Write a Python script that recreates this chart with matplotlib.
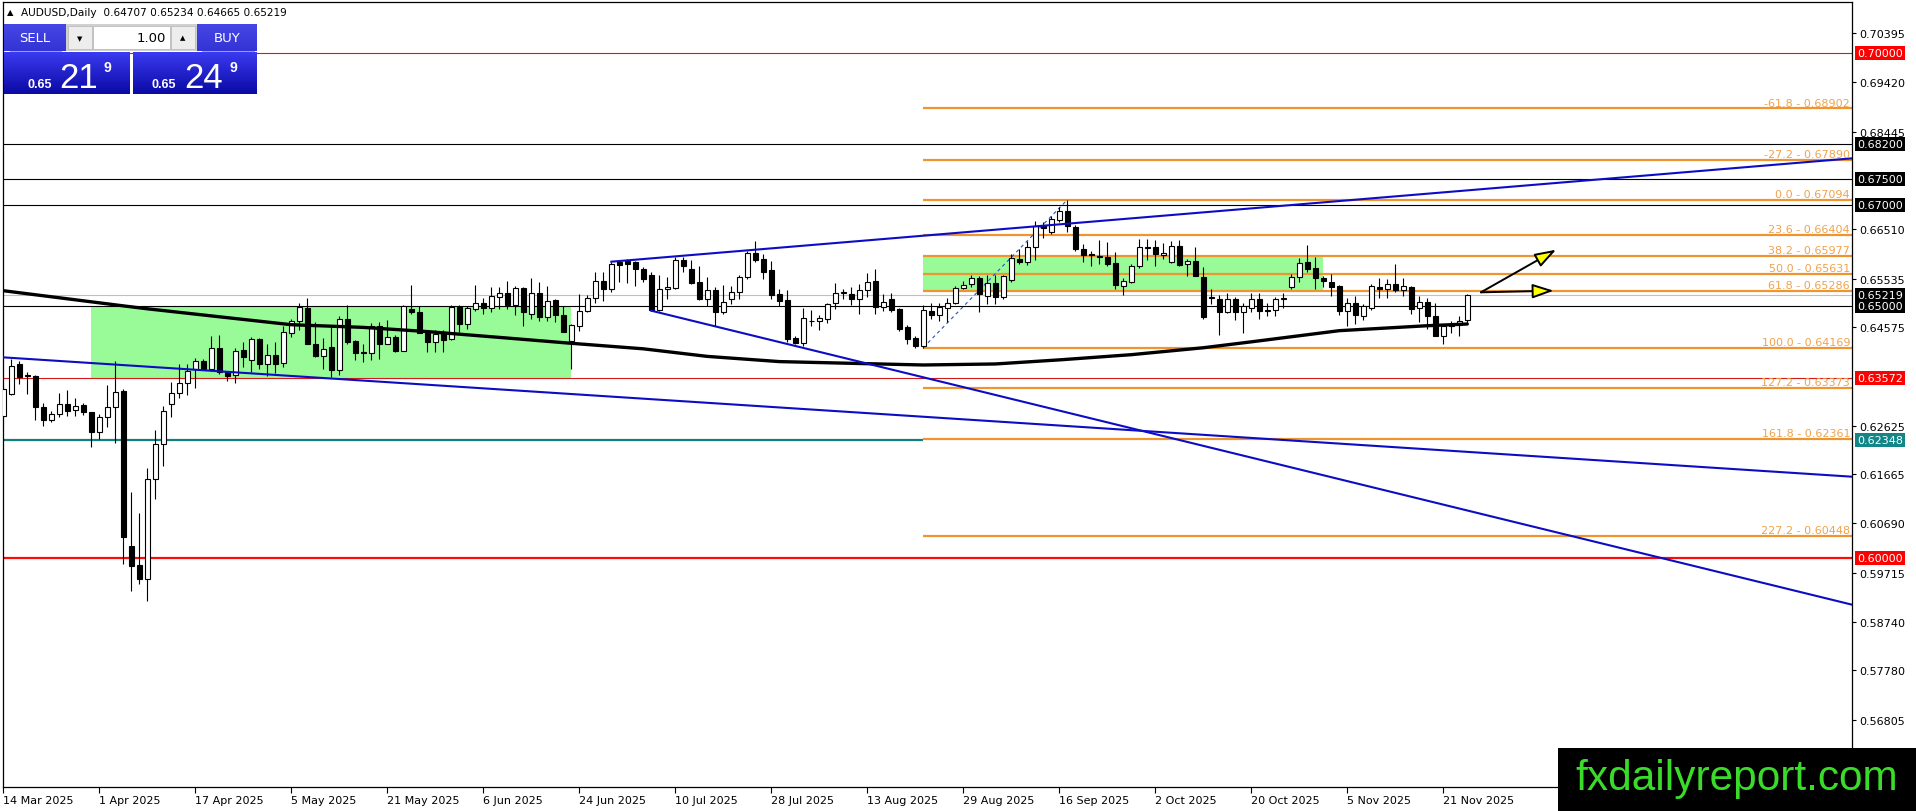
import numpy as np
import matplotlib
matplotlib.use('Agg')
import matplotlib.pyplot as plt
from matplotlib.patches import Rectangle

# ---------------- DATA ----------------
symbol_header = "AUDUSD,Daily  0.64707 0.65234 0.64665 0.65219"

ohlc = [
 (0.6282,0.6338,0.6277,0.6335),(0.6325,0.6394,0.6324,0.6381),(0.6384,0.6391,0.6345,0.6358),(0.6362,0.6368,0.6325,0.6360),
 (0.6360,0.6363,0.6274,0.6300),(0.6300,0.6308,0.6261,0.6274),(0.6274,0.6292,0.6269,0.6285),(0.6285,0.6328,0.6280,0.6305),
 (0.6305,0.6332,0.6281,0.6292),(0.6294,0.6318,0.6282,0.6302),(0.6303,0.6308,0.6283,0.6289),(0.6289,0.6290,0.6221,0.6249),
 (0.6249,0.6285,0.6237,0.6279),(0.6279,0.6343,0.6260,0.6300),(0.6300,0.6391,0.6229,0.6330),(0.6331,0.6335,0.5989,0.6042),
 (0.6024,0.6132,0.5936,0.5985),(0.5987,0.6090,0.5949,0.5958),(0.5958,0.6178,0.5916,0.6156),(0.6156,0.6253,0.6117,0.6226),
 (0.6226,0.6302,0.6183,0.6291),(0.6305,0.6348,0.6279,0.6328),(0.6328,0.6384,0.6318,0.6346),(0.6346,0.6384,0.6324,0.6371),
 (0.6374,0.6396,0.6336,0.6390),(0.6390,0.6394,0.6374,0.6374),(0.6374,0.6439,0.6371,0.6417),(0.6417,0.6442,0.6365,0.6368),
 (0.6368,0.6371,0.6351,0.6361),(0.6362,0.6416,0.6347,0.6411),(0.6412,0.6427,0.6378,0.6399),(0.6393,0.6437,0.6369,0.6434),
 (0.6434,0.6435,0.6374,0.6384),(0.6384,0.6424,0.6361,0.6403),(0.6403,0.6427,0.6367,0.6384),(0.6386,0.6460,0.6378,0.6447),
 (0.6445,0.6473,0.6437,0.6469),(0.6470,0.6505,0.6452,0.6497),(0.6495,0.6516,0.6424,0.6424),(0.6425,0.6467,0.6398,0.6401),
 (0.6401,0.6435,0.6374,0.6414),(0.6419,0.6457,0.6358,0.6373),(0.6373,0.6480,0.6363,0.6473),(0.6473,0.6501,0.6424,0.6427),
 (0.6430,0.6431,0.6393,0.6407),(0.6407,0.6424,0.6389,0.6408),(0.6406,0.6466,0.6393,0.6459),(0.6459,0.6467,0.6394,0.6424),
 (0.6425,0.6472,0.6424,0.6438),(0.6438,0.6442,0.6409,0.6411),(0.6411,0.6501,0.6410,0.6499),(0.6493,0.6541,0.6483,0.6487),
 (0.6487,0.6499,0.6445,0.6446),(0.6445,0.6452,0.6409,0.6427),(0.6427,0.6452,0.6409,0.6444),(0.6444,0.6452,0.6409,0.6432),
 (0.6433,0.6501,0.6432,0.6497),(0.6497,0.6501,0.6448,0.6464),(0.6464,0.6500,0.6454,0.6495),(0.6493,0.6541,0.6490,0.6506),
 (0.6506,0.6516,0.6483,0.6495),(0.6495,0.6536,0.6487,0.6520),(0.6518,0.6536,0.6493,0.6524),(0.6524,0.6548,0.6493,0.6501),
 (0.6501,0.6538,0.6481,0.6535),(0.6535,0.6536,0.6460,0.6488),(0.6483,0.6554,0.6473,0.6524),(0.6524,0.6546,0.6470,0.6477),
 (0.6477,0.6539,0.6470,0.6510),(0.6511,0.6514,0.6468,0.6481),(0.6481,0.6500,0.6448,0.6448),(0.6430,0.6463,0.6374,0.6461),
 (0.6460,0.6523,0.6450,0.6490),(0.6490,0.6521,0.6487,0.6515),(0.6515,0.6566,0.6506,0.6548),(0.6548,0.6567,0.6510,0.6532),
 (0.6532,0.6587,0.6526,0.6582),(0.6587,0.6589,0.6546,0.6581),(0.6588,0.6592,0.6545,0.6583),(0.6587,0.6589,0.6539,0.6572),
 (0.6572,0.6576,0.6547,0.6553),(0.6560,0.6566,0.6490,0.6492),(0.6492,0.6560,0.6490,0.6533),(0.6533,0.6556,0.6513,0.6537),
 (0.6535,0.6596,0.6533,0.6591),(0.6591,0.6597,0.6566,0.6579),(0.6572,0.6591,0.6543,0.6545),(0.6546,0.6578,0.6512,0.6513),
 (0.6514,0.6556,0.6499,0.6530),(0.6531,0.6536,0.6460,0.6488),(0.6488,0.6541,0.6483,0.6508),(0.6513,0.6539,0.6503,0.6526),
 (0.6526,0.6561,0.6513,0.6556),(0.6556,0.6609,0.6553,0.6604),(0.6604,0.6627,0.6587,0.6590),(0.6592,0.6602,0.6553,0.6567),
 (0.6570,0.6589,0.6513,0.6521),(0.6522,0.6533,0.6500,0.6510),(0.6511,0.6530,0.6427,0.6434),(0.6435,0.6440,0.6424,0.6426),
 (0.6426,0.6495,0.6421,0.6475),(0.6470,0.6492,0.6460,0.6469),(0.6469,0.6481,0.6452,0.6475),(0.6473,0.6506,0.6466,0.6503),
 (0.6505,0.6544,0.6493,0.6525),(0.6525,0.6532,0.6514,0.6526),(0.6522,0.6536,0.6501,0.6513),(0.6514,0.6543,0.6483,0.6531),
 (0.6530,0.6564,0.6518,0.6546),(0.6548,0.6572,0.6483,0.6497),(0.6497,0.6523,0.6490,0.6508),(0.6513,0.6525,0.6487,0.6492),
 (0.6493,0.6495,0.6450,0.6454),(0.6457,0.6462,0.6424,0.6434),(0.6435,0.6440,0.6417,0.6421),(0.6421,0.6501,0.64169,0.6492),
 (0.6490,0.6506,0.6473,0.6481),(0.6481,0.6505,0.6470,0.6497),(0.6495,0.6516,0.6467,0.6505),(0.6506,0.6539,0.6503,0.6534),
 (0.6534,0.6549,0.6533,0.6541),(0.6543,0.6561,0.6536,0.6554),(0.6554,0.6558,0.6487,0.6523),(0.6520,0.6561,0.6503,0.6544),
 (0.6544,0.6561,0.6503,0.6518),(0.6518,0.6561,0.6513,0.6558),(0.6551,0.6602,0.6547,0.6594),(0.6592,0.6612,0.6582,0.6586),
 (0.6586,0.6627,0.6580,0.6615),(0.6615,0.6668,0.6591,0.6658),(0.6658,0.6665,0.6633,0.6653),(0.6646,0.6678,0.6642,0.6671),
 (0.6670,0.6695,0.6666,0.6687),(0.6687,0.67094,0.6645,0.6657),(0.6656,0.6660,0.6609,0.6612),(0.6613,0.6622,0.6587,0.6600),
 (0.6602,0.6609,0.6578,0.6600),(0.6596,0.6629,0.6582,0.6599),(0.6596,0.6625,0.6579,0.6582),(0.6584,0.6607,0.6533,0.6541),
 (0.6539,0.6554,0.6521,0.6548),(0.6546,0.6582,0.6545,0.6578),(0.6578,0.6632,0.6574,0.6615),(0.6615,0.6632,0.6591,0.6614),
 (0.6615,0.6629,0.6579,0.6602),(0.6601,0.6624,0.6592,0.6604),(0.6586,0.6627,0.6584,0.6617),(0.6617,0.6629,0.6579,0.6580),
 (0.6582,0.6592,0.6558,0.6589),(0.6589,0.6615,0.6558,0.6558),(0.6557,0.6576,0.6473,0.6477),(0.6516,0.6533,0.6503,0.6517),
 (0.6514,0.6521,0.6442,0.6487),(0.6487,0.6525,0.6485,0.6514),(0.6514,0.6518,0.6472,0.6487),(0.6487,0.6505,0.6445,0.6500),
 (0.6495,0.6525,0.6488,0.6514),(0.6514,0.6525,0.6473,0.6489),(0.6491,0.6506,0.6479,0.6489),(0.6491,0.6518,0.6480,0.6514),
 (0.6513,0.6525,0.6495,0.6516),(0.6536,0.6563,0.6532,0.6556),(0.6556,0.6594,0.6546,0.6584),(0.6587,0.6620,0.6566,0.6572),
 (0.6574,0.6596,0.6533,0.6554),(0.6555,0.6559,0.6536,0.6548),(0.6546,0.6563,0.6520,0.6537),(0.6539,0.6541,0.6481,0.6490),
 (0.6490,0.6516,0.6460,0.6506),(0.6506,0.6520,0.6464,0.6481),(0.6480,0.6503,0.6471,0.6499),(0.6495,0.6543,0.6492,0.6538),
 (0.6536,0.6554,0.6516,0.6533),(0.6533,0.6553,0.6516,0.6543),(0.6543,0.6582,0.6526,0.6531),(0.6531,0.6554,0.6520,0.6539),
 (0.6537,0.6539,0.6483,0.6494),(0.6495,0.6520,0.6468,0.6508),(0.6508,0.6516,0.6454,0.6480),(0.6479,0.6505,0.6440,0.6440),
 (0.6440,0.6464,0.6424,0.6460),(0.6459,0.6470,0.6446,0.6464),(0.6462,0.6480,0.6439,0.6470),(0.64707,0.65234,0.64665,0.65219),
]
opens = [r[0] for r in ohlc]
highs = [r[1] for r in ohlc]
lows = [r[2] for r in ohlc]
closes = [r[3] for r in ohlc]

# moving average (read at bar indices)
ma_idx = [0, 15, 18, 27, 36, 45, 53, 62, 71, 80, 88, 97, 106, 115, 124, 132, 141, 150, 156, 167, 178, 183]
ma_val = [0.65295, 0.64995, 0.64937, 0.64779, 0.64622, 0.64569, 0.64486, 0.64371, 0.64254, 0.64145,
          0.63995, 0.63892, 0.63858, 0.63825, 0.63845, 0.63926, 0.64029, 0.64166, 0.64283, 0.64504,
          0.64602, 0.64636]

date_idx = [0, 12, 24, 36, 48, 60, 72, 84, 96, 108, 120, 132, 144, 156, 168, 180]
date_lbl = ["14 Mar 2025", "1 Apr 2025", "17 Apr 2025", "5 May 2025", "21 May 2025", "6 Jun 2025",
            "24 Jun 2025", "10 Jul 2025", "28 Jul 2025", "13 Aug 2025", "29 Aug 2025", "16 Sep 2025",
            "2 Oct 2025", "20 Oct 2025", "5 Nov 2025", "21 Nov 2025"]

ytick_vals = [0.70395, 0.69420, 0.68445, 0.66510, 0.65535, 0.64575, 0.62625, 0.61665,
              0.60690, 0.59715, 0.58740, 0.57780, 0.56805]
ytick_lbl = ["%.5f" % v for v in ytick_vals]

# horizontal levels
black_levels = [0.68200, 0.67500, 0.67000, 0.65000]
red_levels = [0.70000, 0.63572]
red_strong = 0.60000
teal_level = 0.62348
teal_end = 115
bid = 0.65219

# price label boxes on the axis
axis_boxes = [(0.70000, 'red'), (0.68200, 'black'), (0.67500, 'black'), (0.67000, 'black'),
              (0.65219, 'black'), (0.65000, 'black'), (0.63572, 'red'), (0.62348, 'teal'),
              (0.60000, 'red')]

# fibonacci
fib_start = 115
fib_pct = ["-61.8", "-27.2", "0.0", "23.6", "38.2", "50.0", "61.8", "100.0", "127.2", "161.8", "227.2"]
fib_val = [0.68902, 0.67890, 0.67094, 0.66404, 0.65977, 0.65631, 0.65286, 0.64169, 0.63373, 0.62361, 0.60448]
fib_anchor = [(115, 0.64169), (133, 0.67094)]

# zones (bar start, bar end, low, high)
zones = [(11, 71, 0.63572, 0.65000), (115, 165, 0.65286, 0.65977)]

# trend lines (bar, price) anchors
trend_upper = [(76, 0.65869), (231.1, 0.67915)]
trend_fall = [(81, 0.64899), (231.1, 0.59081)]
trend_lower = [(-0.1, 0.63977), (231.1, 0.61614)]

# arrows (start, end)
arrows = [((184.7, 0.65263), (194.1, 0.66106)), ((184.7, 0.65263), (193.8, 0.65295))]

# ---------------- FIGURE ----------------
W, H = 1916, 812
fig = plt.figure(figsize=(W / 100, H / 100), dpi=100)
fig.patch.set_facecolor('white')
plt.rcParams['font.family'] = ['DejaVu Sans']

PL, PR, PT, PB = 2.5, 1852.0, 2.5, 788.0
ax = fig.add_axes([PL / W, 1 - PB / H, (PR - PL) / W, (PB - PT) / H])
ax.set_facecolor('white')


def kx(x):
    return (x - 3.3) / 8.0


Y0, PPU = 34.0, 5053.0
xmin, xmax = kx(PL), kx(PR)
ax.set_xlim(xmin, xmax)
ax.set_ylim(0.70395 - (PB - Y0) / PPU, 0.70395 + (Y0 - PT) / PPU)

ORANGE = '#EE9530'
ORANGE_T = '#F0A24C'
BLUE = '#0C0CC4'

# zones
for (k0, k1, lo, hi) in zones:
    ax.add_patch(Rectangle((k0, lo), k1 - k0, hi - lo, facecolor='#98FB98', edgecolor='none', zorder=1))

# horizontal levels
ax.axhline(bid, color='#C0C0C0', lw=0.8, zorder=2)
for v in black_levels:
    ax.axhline(v, color='black', lw=0.8, zorder=2)
for v in red_levels:
    ax.axhline(v, color='#D41A1A', lw=0.8, zorder=2)
ax.axhline(red_strong, color='#FF0A0A', lw=1.6, zorder=2)
ax.hlines(teal_level, xmin, teal_end, color='#157E7E', lw=1.6, zorder=2)

# fib levels
for p, v in zip(fib_pct, fib_val):
    ax.hlines(v, fib_start, xmax, color=ORANGE, lw=1.6, zorder=2.5)
    ax.text(kx(1850), v + 0.00018, "%s - %.5f" % (p, v), ha='right', va='bottom',
            color=ORANGE_T, fontsize=8, zorder=6)
ax.plot([fib_anchor[0][0], fib_anchor[1][0]], [fib_anchor[0][1], fib_anchor[1][1]],
        color='#2B4FC0', lw=0.8, ls=(0, (3, 3)), zorder=3)

# candles
bw = 0.6
for i, (o, h, l, c) in enumerate(zip(opens, highs, lows, closes)):
    ax.plot([i, i], [l, h], color='black', lw=0.8, zorder=3.5, solid_capstyle='butt')
    up = c >= o
    lo_, hi_ = min(o, c), max(o, c)
    ax.add_patch(Rectangle((i - bw / 2, lo_), bw, hi_ - lo_,
                           facecolor='white' if up else 'black', edgecolor='black',
                           lw=0.8, zorder=4))

# moving average
ax.plot(ma_idx, ma_val, color='black', lw=2.4, zorder=5, solid_capstyle='round',
        solid_joinstyle='round')

# trend lines
for tl in (trend_upper, trend_fall, trend_lower):
    ax.plot([tl[0][0], tl[1][0]], [tl[0][1], tl[1][1]], color=BLUE, lw=1.5, zorder=5)

# arrows
for (s, e) in arrows:
    ax.annotate('', xy=e, xytext=s,
                arrowprops=dict(arrowstyle='-|>,head_length=0.65,head_width=0.22',
                                mutation_scale=20, fc='#FFFF00', ec='black', lw=1.4,
                                shrinkA=0, shrinkB=0), zorder=7)

# axes styling
for sp in ax.spines.values():
    sp.set_color('black')
    sp.set_linewidth(0.9)
ax.yaxis.tick_right()
ax.set_yticks(ytick_vals)
ax.set_yticklabels(ytick_lbl)
ax.tick_params(axis='y', direction='out', length=3, width=0.8, pad=2, labelsize=8, colors='black')
ax.set_xticks(date_idx)
ax.set_xticklabels(date_lbl)
ax.tick_params(axis='x', direction='out', length=4, width=0.8, pad=2, labelsize=8, colors='black')
for t in ax.get_xticklabels():
    t.set_ha('left')

box_col = {'red': '#FF0000', 'black': '#000000', 'teal': '#138787'}
for v, cname in axis_boxes:
    ax.annotate("%.5f" % v, xy=(1, v), xycoords=('axes fraction', 'data'), xytext=(5, 0),
                textcoords='offset pixels', ha='left', va='center', color='white', fontsize=8,
                bbox=dict(boxstyle='square,pad=0.18', fc=box_col[cname], ec='none'),
                annotation_clip=False, zorder=8)

# ---------------- OVERLAYS (pixel coords) ----------------
def prect(x0, y0, x1, y1, z=20, **kw):
    r = Rectangle((x0 / W, 1 - y1 / H), (x1 - x0) / W, (y1 - y0) / H,
                  transform=fig.transFigure, zorder=z, **kw)
    fig.patches.append(r)


def ptext(x, y, s, z=30, **kw):
    fig.text(x / W, 1 - y / H, s, zorder=z, **kw)


def gradbox(x0, y0, x1, y1, ctop, cbot, z=21):
    a = fig.add_axes([x0 / W, 1 - y1 / H, (x1 - x0) / W, (y1 - y0) / H], zorder=z)
    t = np.linspace(0, 1, 64)[:, None]
    ct = np.array(matplotlib.colors.to_rgb(ctop))
    cb = np.array(matplotlib.colors.to_rgb(cbot))
    img = (ct[None, None, :] * (1 - t[:, :, None]) + cb[None, None, :] * t[:, :, None])
    a.imshow(img, aspect='auto', extent=(0, 1, 0, 1))
    a.set_axis_off()


# header
ptext(7, 13, "\u25B2", fontsize=6, va='center', ha='left', color='black')
ptext(21, 13, symbol_header, fontsize=7.6, va='center', ha='left', color='black')

# trade panel top row
gradbox(4, 25, 66, 52, '#4646E6', '#3434D6')
gradbox(197, 25, 257, 52, '#4646E6', '#3434D6')
prect(66, 25, 197, 52, fc='#D0D0D0', ec='none')
prect(68, 27, 92, 50, fc='#EDEDED', ec='#BDBDBD', lw=0.6, z=22)
prect(93, 27, 170, 50, fc='white', ec='#BDBDBD', lw=0.6, z=22)
prect(171, 27, 195, 50, fc='#EDEDED', ec='#BDBDBD', lw=0.6, z=22)
ptext(35, 39, "SELL", fontsize=9.5, ha='center', va='center', color='white')
ptext(227, 39, "BUY", fontsize=9.5, ha='center', va='center', color='white')
ptext(166, 38.5, "1.00", fontsize=9.5, ha='right', va='center', color='black')
ptext(80, 39, "\u25BC", fontsize=5, ha='center', va='center', color='black')
ptext(183, 38, "\u25B2", fontsize=5, ha='center', va='center', color='black')

# trade panel bottom row
gradbox(4, 53, 130, 95, '#3A3AF0', '#0A0AA4')
gradbox(133, 53, 257, 95, '#3A3AF0', '#0A0AA4')
prect(10, 52, 62, 53, fc='#9C9CF4', ec='none', z=23)
prect(202, 52, 255, 53, fc='#9C9CF4', ec='none', z=23)
ptext(27, 87.5, "0.65", fontsize=9, fontweight='bold', ha='left', va='baseline', color='white',
      family='Liberation Sans')
ptext(59, 88, "21", fontsize=25, ha='left', va='baseline', color='white', family='Liberation Sans')
ptext(103, 71.5, "9", fontsize=10, fontweight='bold', ha='left', va='baseline', color='white',
      family='Liberation Sans')
ptext(152, 87.5, "0.65", fontsize=9, fontweight='bold', ha='left', va='baseline', color='white',
      family='Liberation Sans')
ptext(184, 88, "24", fontsize=25, ha='left', va='baseline', color='white', family='Liberation Sans')
ptext(230, 71.5, "9", fontsize=10, fontweight='bold', ha='left', va='baseline', color='white',
      family='Liberation Sans')

# logo
prect(1558, 749, 1916, 812, fc='black', ec='none', z=40)
ptext(1575, 790, "fxdailyreport.com", fontsize=30.5, ha='left', va='baseline', color='#3BDB2A',
      family='Liberation Sans', z=41)

fig.savefig('out.png', dpi=100, facecolor='white')
